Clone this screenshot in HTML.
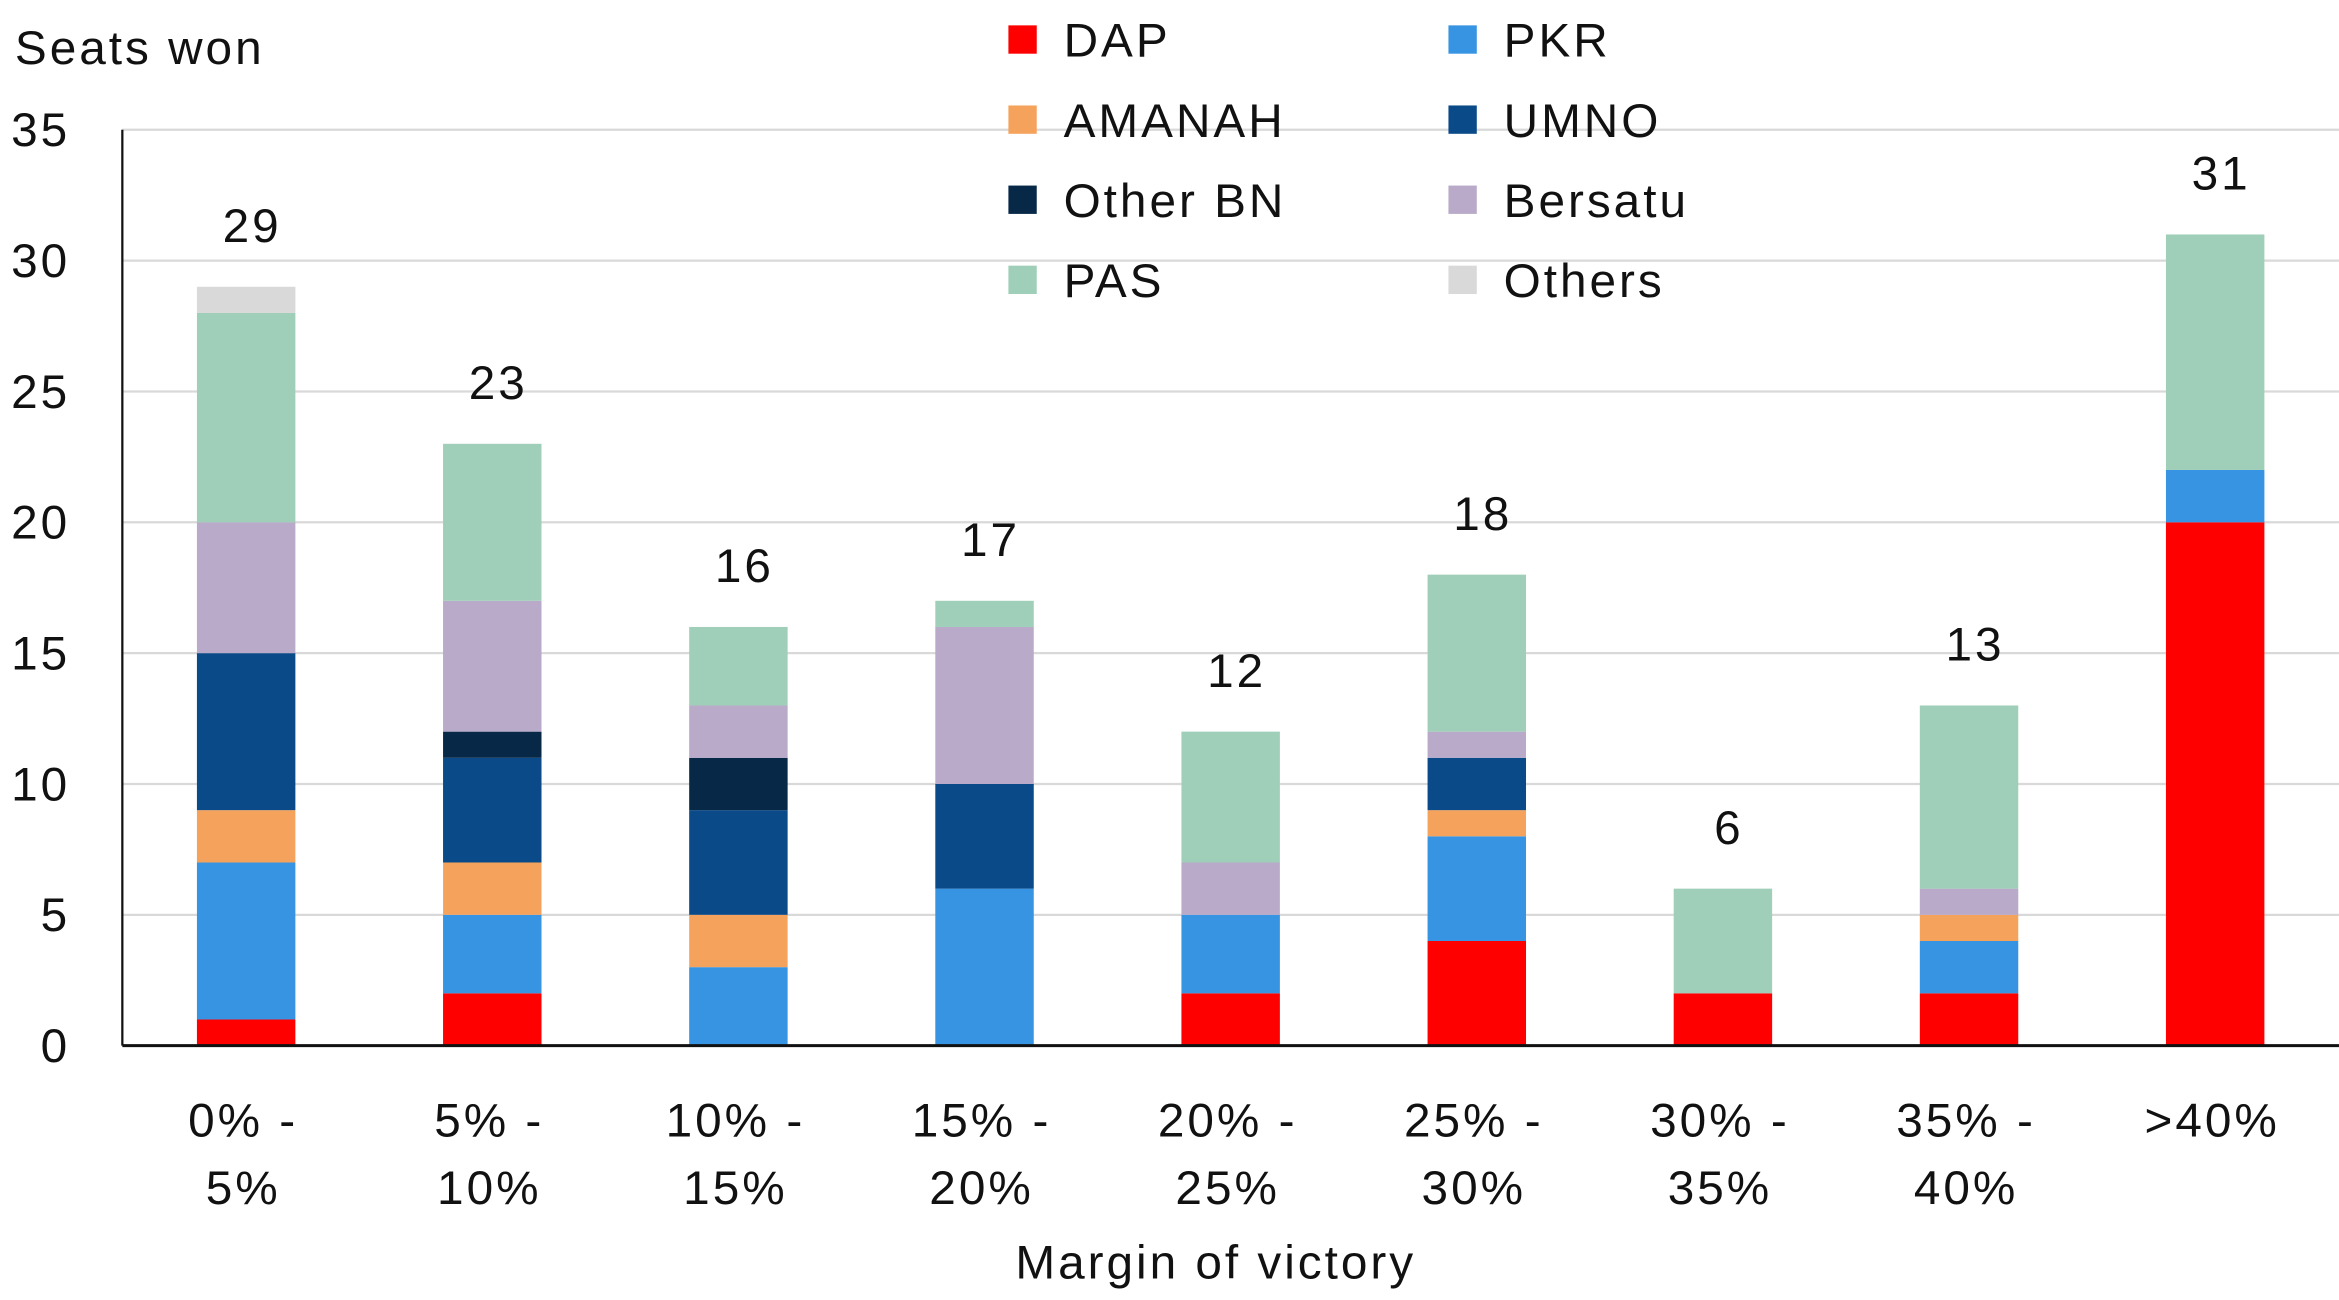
<!DOCTYPE html>
<html><head><meta charset="utf-8"><style>
html,body{margin:0;padding:0;background:#fff}
svg{display:block;font-family:"Liberation Sans",sans-serif}
svg text{letter-spacing:2px}
</style></head><body>
<svg id="chart" width="2339" height="1300" viewBox="0 0 1568 871.5" xmlns="http://www.w3.org/2000/svg">
<g id="grid"></g>
<g id="bars"></g>
<g id="axes"></g>
<g id="legend"></g>
<text x="10" y="43" font-size="32" fill="#111">Seats won</text>
<text x="815" y="857" font-size="32" fill="#111" text-anchor="middle">Margin of victory</text>
</svg>
<script>
const categories=[["0% -","5%"],["5% -","10%"],["10% -","15%"],["15% -","20%"],["20% -","25%"],["25% -","30%"],["30% -","35%"],["35% -","40%"],[">40%",""]];
const seriesNames=["DAP","PKR","AMANAH","UMNO","Other BN","Bersatu","PAS","Others"];
const seriesColors=["#ff0000","#3794e3","#f5a35c","#0b4a88","#072847","#b8aac8","#9fcfb8","#d9d9d9"];
const DAP=[1,2,0,0,2,4,2,2,20];
const PKR=[6,3,3,6,3,4,0,2,2];
const AMANAH=[2,2,2,0,0,1,0,1,0];
const UMNO=[6,4,4,4,0,2,0,0,0];
const OtherBN=[0,1,2,0,0,0,0,0,0];
const Bersatu=[5,5,2,6,2,1,0,1,0];
const PAS=[8,6,3,1,5,6,4,7,9];
const Others=[1,0,0,0,0,0,0,0,0];
const yTicks=[0,5,10,15,20,25,30,35];
const series=[DAP,PKR,AMANAH,UMNO,OtherBN,Bersatu,PAS,Others];
const NS="http://www.w3.org/2000/svg";
const x0=82,x1=1568,yBase=701,yTop=87,yMax=35,step=165,bw=66;
const y=v=>yBase-(v/yMax)*(yBase-yTop);
const xc=i=>165+i*step;
function mk(tag,attrs,parent,txt){const e=document.createElementNS(NS,tag);for(const k in attrs)e.setAttribute(k,attrs[k]);if(txt!==undefined)e.textContent=txt;parent.appendChild(e);return e;}
const grid=document.getElementById('grid'),bars=document.getElementById('bars'),axes=document.getElementById('axes'),legend=document.getElementById('legend');
yTicks.forEach(t=>{
  if(t>0){const l=mk('line',{x1:x0,x2:x1,y1:y(t),y2:y(t),stroke:'#d9d9d9','stroke-width':1.5},grid);
  
  }
  const tx=mk('text',{x:47,y:y(t)+11,'font-size':32,'text-anchor':'end',fill:'#111'},axes,String(t));
  
  
});
categories.forEach((c,i)=>{
  let cum=0;
  series.forEach((s,k)=>{
    const v=s[i];if(!v)return;
    const r=mk('rect',{x:xc(i)-bw/2,y:y(cum+v),width:bw,height:y(cum)-y(cum+v),fill:seriesColors[k]},bars);
    
    
    cum+=v;
  });
  const tl=mk('text',{x:xc(i)+4,y:y(cum)-30,'font-size':32,'text-anchor':'middle',fill:'#111'},bars,String(cum));
  
  
  const xl=mk('text',{x:xc(i)-2,y:762,'font-size':32,'text-anchor':'middle',fill:'#111'},axes);
  
  
  mk('tspan',{x:xc(i)-2,dy:0},xl,c[0]);
  if(c[1])mk('tspan',{x:xc(i)-2,dy:45},xl,c[1]);
});
const ax=mk('line',{x1:x0,x2:x1,y1:yBase,y2:yBase,stroke:'#111','stroke-width':2},axes);


const ay=mk('line',{x1:x0,x2:x0,y1:yTop,y2:yBase,stroke:'#111','stroke-width':1.5},axes);


const order=[0,1,2,3,4,5,6,7];
order.forEach((k,j)=>{
  const col=j%2,row=Math.floor(j/2);
  const lx=676+col*295,ly=27+row*53.7;
  const g=mk('g',{},legend);
  
  
  mk('rect',{x:lx,y:ly-10,width:19,height:19,fill:seriesColors[k]},g);
  mk('text',{x:lx+37,y:ly+11,'font-size':32,fill:'#111'},g,seriesNames[k]);
});
</script>
</body></html>
